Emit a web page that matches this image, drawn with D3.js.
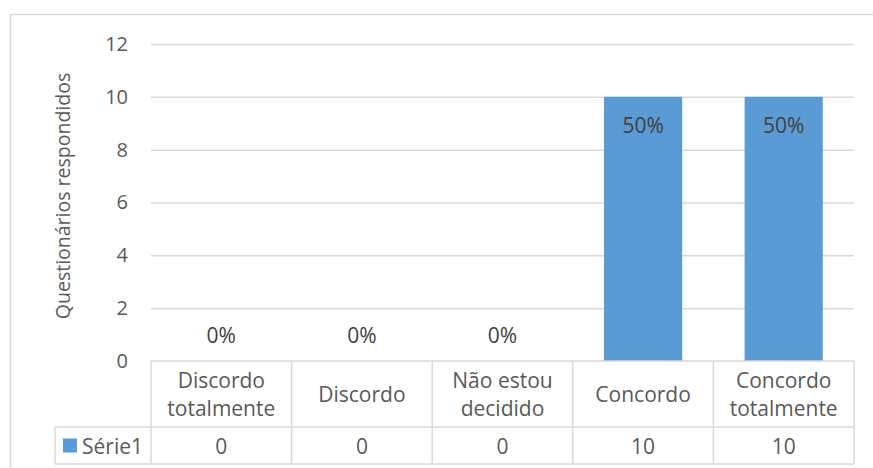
<!DOCTYPE html>
<html>
<head>
<meta charset="utf-8">
<script src="https://cdn.jsdelivr.net/npm/d3@7"></script>
<style>
  html, body { margin: 0; padding: 0; background: #fff; }
  svg { display: block; }
  text { font-family: "Open Sans", "Noto Sans", sans-serif; fill: #595959; }
</style>
</head>
<body>
<svg id="chart" width="873" height="468"></svg>
<script>
// Survey answers: number of questionnaires per response option
const categories = [["Discordo", "totalmente"], ["Discordo"], ["Não estou", "decidido"], ["Concordo"], ["Concordo", "totalmente"]];
const seriesName = "Série1";
const values = [0, 0, 0, 10, 10];
const yTicks = [0, 2, 4, 6, 8, 10, 12];
const yTitle = "Questionários respondidos";

const svg = d3.select("#chart");

const plot = { left: 151, right: 854, top: 44, bottom: 361 };
const tableRow1 = 427, tableBottom = 464, legendLeft = 55;
const gridColor = "#d9d9d9";
const barColor = "#5b9bd5";
const fs = 21;

// Chart frame
svg.append("rect")
  .attr("x", 10.5).attr("y", 14.5)
  .attr("width", 900).attr("height", 500)
  .attr("fill", "#fff").attr("stroke", gridColor).attr("stroke-width", 1.5);

const x = d3.scaleBand()
  .domain(d3.range(categories.length))
  .range([plot.left, plot.right])
  .paddingInner(0.444).paddingOuter(0.222);

const y = d3.scaleLinear().domain([0, 12]).range([plot.bottom, plot.top]);

// Gridlines and tick labels
const yAxis = d3.axisLeft(y).tickValues(yTicks).tickSize(-(plot.right - plot.left)).tickPadding(23);
const gy = svg.append("g").attr("transform", `translate(${plot.left},0)`).call(yAxis);
gy.select(".domain").remove();
gy.selectAll(".tick line").attr("stroke", gridColor).attr("stroke-width", 1.5)
  .filter(d => d === 0).remove();
gy.selectAll(".tick text").attr("font-size", 20).attr("fill", "#595959")
  .attr("font-family", '"Open Sans", sans-serif');

// Axis title
svg.append("text")
  .attr("transform", `translate(62,196) rotate(-90)`)
  .attr("text-anchor", "middle").attr("dominant-baseline", "central")
  .attr("font-size", 19.5)
  .text(yTitle);

// Bars
svg.append("g").selectAll("rect").data(values).join("rect")
  .attr("x", (d, i) => x(i)).attr("width", x.bandwidth())
  .attr("y", d => y(d)).attr("height", d => y(0) - y(d))
  .attr("fill", barColor);

// Percentage labels
const total = d3.sum(values);
const pct = d3.format(".0%");
svg.append("g").selectAll("text").data(values).join("text")
  .attr("x", (d, i) => x(i) + x.bandwidth() / 2)
  .attr("y", d => d > 0 ? y(d) + 28 : y(0) - 26)
  .attr("text-anchor", "middle").attr("dominant-baseline", "central")
  .attr("font-size", fs)
  .style("fill", "#404040")
  .text(d => pct(d / total));

// Data table
const colEdges = d3.range(categories.length + 1).map(i => plot.left + i * (plot.right - plot.left) / categories.length);
const tbl = svg.append("g").attr("stroke", gridColor).attr("stroke-width", 1.5);
tbl.append("line").attr("x1", plot.left).attr("x2", plot.right).attr("y1", plot.bottom).attr("y2", plot.bottom);
tbl.append("line").attr("x1", legendLeft).attr("x2", plot.right).attr("y1", tableRow1).attr("y2", tableRow1);
tbl.append("line").attr("x1", legendLeft).attr("x2", plot.right).attr("y1", tableBottom).attr("y2", tableBottom);
tbl.append("line").attr("x1", legendLeft).attr("x2", legendLeft).attr("y1", tableRow1).attr("y2", tableBottom);
tbl.selectAll("line.col").data(colEdges).join("line").attr("class", "col")
  .attr("x1", d => d).attr("x2", d => d).attr("y1", plot.bottom).attr("y2", tableBottom);

const colMid = i => (colEdges[i] + colEdges[i + 1]) / 2;
const headerMid = (plot.bottom + tableRow1) / 2;
const lineGap = 28;
svg.append("g").selectAll("text").data(categories).join("text")
  .attr("text-anchor", "middle").attr("font-size", fs)
  .each(function(lines, i) {
    const t = d3.select(this);
    lines.forEach((ln, k) => {
      t.append("tspan")
        .attr("x", colMid(i))
        .attr("y", headerMid + (k - (lines.length - 1) / 2) * lineGap)
        .attr("dominant-baseline", "central")
        .text(ln);
    });
  });

const valMid = (tableRow1 + tableBottom) / 2;
svg.append("g").selectAll("text").data(values).join("text")
  .attr("x", (d, i) => colMid(i)).attr("y", valMid)
  .attr("text-anchor", "middle").attr("dominant-baseline", "central")
  .attr("font-size", fs)
  .text(d => d);

// Legend key in the table
svg.append("rect").attr("x", 63).attr("y", valMid - 7).attr("width", 14).attr("height", 14).attr("fill", barColor);
svg.append("text").attr("x", 82).attr("y", valMid)
  .attr("dominant-baseline", "central").attr("font-size", fs)
  .text(seriesName);
</script>
</body>
</html>
